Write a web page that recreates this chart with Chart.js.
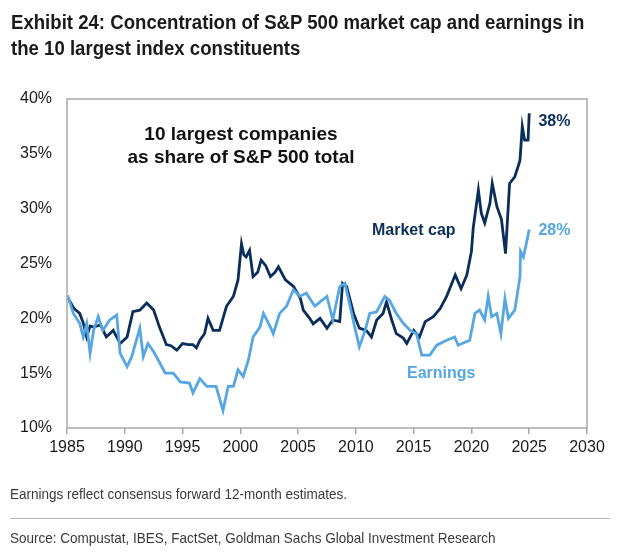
<!DOCTYPE html>
<html>
<head>
<meta charset="utf-8">
<script src="https://cdn.jsdelivr.net/npm/chart.js@4/dist/chart.umd.min.js"></script>
<style>
  body { margin: 0; background: #fff; width: 620px; height: 554px; position: relative; overflow: hidden; }
  #wrap { position: absolute; left: 0; top: 0; width: 620px; height: 554px; }
  .title { position: absolute; left: 11px; top: 9px; font-family: "Liberation Sans", Arial, sans-serif; white-space: nowrap;
           font-weight: bold; font-size: 20px; line-height: 26px; color: #1a1a1a;
           transform: scaleX(0.93); transform-origin: 0 0; }
  .note { position: absolute; left: 10px; font-family: "Liberation Sans", Arial, sans-serif; white-space: nowrap;
          font-size: 15px; line-height: 18px; color: #3a3a3a; transform: scaleX(0.9); transform-origin: 0 0; }
  .rule { position: absolute; left: 10px; top: 518px; width: 600px; height: 0; border-top: 1.5px solid #b5b5b5; }
</style>
</head>
<body>
<div id="wrap"><canvas id="chart" width="620" height="554"></canvas></div>
<div class="title">Exhibit 24: Concentration of S&amp;P 500 market cap and earnings in<br>the 10 largest index constituents</div>
<div class="note" style="top:485px">Earnings reflect consensus forward 12-month estimates.</div>
<div class="rule"></div>
<div class="note" style="top:529px">Source: Compustat, IBES, FactSet, Goldman Sachs Global Investment Research</div>

<script>
// years (decimal) and share of S&P 500 total, %
const capYears = [1985.05,1985.6,1986.1,1986.4,1986.7,1987.0,1987.3,1987.9,1988.4,1989.0,1989.6,1990.2,1990.7,1991.3,1991.9,1992.5,1993.0,1993.6,1994.0,1994.5,1995.0,1995.5,1995.9,1996.2,1996.5,1996.9,1997.2,1997.65,1998.2,1998.8,1999.4,1999.8,2000.1,2000.3,2000.5,2000.8,2001.1,2001.5,2001.8,2002.2,2002.6,2003.0,2003.3,2003.9,2004.6,2005.2,2005.45,2006.0,2006.3,2006.9,2007.5,2008.0,2008.6,2008.85,2009.2,2009.8,2010.3,2010.9,2011.35,2011.8,2012.35,2012.65,2013.1,2013.5,2014.1,2014.4,2015.0,2015.5,2016.0,2016.7,2017.3,2017.85,2018.6,2019.1,2019.6,2020.0,2020.15,2020.6,2020.85,2021.15,2021.6,2021.8,2022.2,2022.6,2022.95,2023.3,2023.75,2024.2,2024.4,2024.6,2024.9,2025.0];
const capValues = [21.9,20.9,20.45,19.6,18.3,19.3,19.2,19.4,18.3,18.9,17.7,18.3,20.6,20.75,21.4,20.75,19.2,17.6,17.5,17.1,17.7,17.6,17.6,17.3,18.0,18.6,20.0,18.9,18.9,21.1,22.0,23.5,26.8,25.8,25.6,26.2,23.8,24.2,25.3,24.8,23.8,24.2,24.7,23.5,22.9,21.8,20.75,20.0,19.5,20.0,19.1,19.85,19.7,23.2,22.9,20.45,19.1,18.9,18.3,19.85,20.45,21.5,19.85,18.6,18.2,17.7,18.9,18.3,19.7,20.15,20.9,22.0,23.95,22.7,23.95,26.1,28.2,31.7,29.6,28.7,30.5,32.3,30.2,29.0,25.9,32.3,32.9,34.4,37.5,36.25,36.25,38.7];

const earnYears = [1985.05,1985.55,1986.1,1986.4,1986.7,1987.0,1987.3,1987.7,1988.1,1988.7,1989.3,1989.6,1990.2,1990.6,1991.0,1991.3,1991.6,1992.0,1992.5,1993.0,1993.5,1994.2,1994.8,1995.6,1995.9,1996.5,1997.1,1997.9,1998.5,1998.95,1999.4,1999.8,2000.25,2000.7,2001.1,2001.7,2002.0,2002.6,2002.85,2003.4,2004.0,2004.6,2005.15,2005.7,2006.45,2006.9,2007.5,2008.0,2008.6,2009.05,2009.5,2009.9,2010.3,2010.8,2011.2,2011.8,2012.5,2012.9,2013.5,2014.1,2014.7,2015.25,2015.7,2016.4,2017.0,2017.85,2018.55,2018.85,2019.85,2020.3,2020.7,2021.15,2021.45,2021.75,2022.2,2022.55,2022.9,2023.2,2023.75,2024.2,2024.25,2024.5,2025.0];
const earnValues = [22.1,20.45,19.55,18.3,19.5,16.8,18.9,20.15,18.9,19.85,20.3,16.8,15.6,16.5,18.0,19.1,16.5,17.7,16.95,16.0,15.0,15.0,14.2,14.1,13.2,14.5,13.8,13.8,11.6,13.8,13.8,15.3,14.7,16.2,18.3,19.2,20.45,19.2,18.6,20.45,21.1,22.6,22.0,22.3,21.1,21.5,22.0,19.85,22.9,23.2,21.1,19.2,17.4,18.9,20.45,20.6,22.0,21.65,20.45,19.55,18.9,18.6,16.65,16.65,17.55,18.0,18.3,17.55,18.0,20.45,20.75,19.85,22.0,20.15,20.45,18.6,21.8,20.0,20.75,23.8,26.1,25.6,28.1];

const xTicks = [1985,1990,1995,2000,2005,2010,2015,2020,2025,2030];
const yTicks = [10,15,20,25,30,35,40];

const NAVY  = '#0b2d5a';
const LIGHT = '#55a6e2';

function toPoints(xs, ys) {
    return xs.map((x, i) => ({ x, y: ys[i] }));
}

// frame around the plot plus in-chart text labels
const decorPlugin = {
    id: 'decor',
    afterDraw(chart) {
        const { ctx, chartArea: a, scales } = chart;
        const xs = scales.x, ys = scales.y;
        ctx.save();
        ctx.strokeStyle = '#a8a8a8';
        ctx.lineWidth = 1.5;
        ctx.strokeRect(a.left, a.top, a.right - a.left, a.bottom - a.top);

        ctx.textBaseline = 'middle';
        ctx.font = 'bold 19px "Liberation Sans", Arial, sans-serif';
        ctx.fillStyle = '#111';
        ctx.textAlign = 'center';
        ctx.fillText('10 largest companies', 241, 135);
        ctx.fillText('as share of S&P 500 total', 241, 158);

        ctx.font = 'bold 16px "Liberation Sans", Arial, sans-serif';
        ctx.textAlign = 'left';
        ctx.fillStyle = NAVY;
        ctx.fillText('Market cap', 372, 231);
        ctx.fillText(Math.floor(capValues[capValues.length - 1]) + '%', xs.getPixelForValue(2025.8), ys.getPixelForValue(37.9));
        ctx.fillStyle = LIGHT;
        ctx.fillText('Earnings', 407, 374);
        ctx.fillText(Math.floor(earnValues[earnValues.length - 1]) + '%', xs.getPixelForValue(2025.8), ys.getPixelForValue(28.0));
        ctx.restore();
    }
};

const tickFont = { family: '"Liberation Sans", Arial, sans-serif', size: 16 };

new Chart(document.getElementById('chart'), {
    type: 'line',
    data: {
        datasets: [
            { label: 'Earnings', data: toPoints(earnYears, earnValues), borderColor: LIGHT, borderWidth: 2.8, pointRadius: 0, tension: 0 },
            { label: 'Market cap', data: toPoints(capYears, capValues), borderColor: NAVY, borderWidth: 2.8, pointRadius: 0, tension: 0 }
        ]
    },
    options: {
        responsive: false,
        animation: false,
        layout: { padding: { left: 0, top: 99, right: 33, bottom: 96 } },
        plugins: { legend: { display: false }, tooltip: { enabled: false } },
        scales: {
            x: {
                type: 'linear', min: 1985, max: 2030,
                afterBuildTicks: s => { s.ticks = xTicks.map(v => ({ value: v })); },
                afterFit: s => { s.height = 30; },
                grid: { drawOnChartArea: false, color: '#a8a8a8', lineWidth: 1.5, tickLength: 6 },
                border: { display: false },
                ticks: { color: '#1a1a1a', font: tickFont, padding: 4, maxRotation: 0, callback: v => v }
            },
            y: {
                min: 10, max: 40,
                afterBuildTicks: s => { s.ticks = yTicks.map(v => ({ value: v })); },
                afterFit: s => { s.width = 67; },
                grid: { display: false, drawTicks: false },
                border: { display: false },
                ticks: { color: '#1a1a1a', font: tickFont, padding: 15, callback: v => v + '%' }
            }
        }
    },
    plugins: [decorPlugin]
});
</script>
</body>
</html>
